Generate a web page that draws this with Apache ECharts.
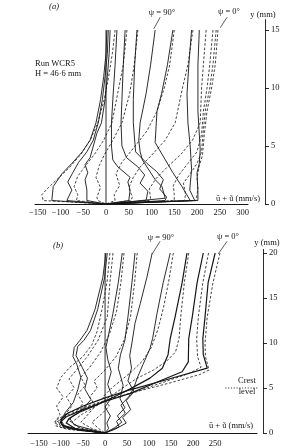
<!DOCTYPE html>
<html><head><meta charset="utf-8">
<script src="https://cdn.jsdelivr.net/npm/echarts@6/dist/echarts.min.js"></script>
<style>html,body{margin:0;padding:0;background:#fff}#c{width:285px;height:448px}</style>
</head><body><div id="c"></div>
<script>
// ---------- tick labels ----------
const xTicksA = [-150,-100,-50,0,50,100,150,200,250,300];
const yTicksA = [0,5,10,15];
const xTicksB = [-150,-100,-50,0,50,100,150,200,250];
const yTicksB = [0,5,10,15,20];

// ---------- panel (a): profiles [u (mm/s), y (mm)] ----------
const aS1 = [[2,15],[0,13],[-5,11],[-12,9],[-22,7],[-35,5.5],[-52,4.5],[-75,3.5],[-97,2.6],[-116,1.5],[-119,0.3],[0,0]];
const aS2 = [[5,15],[3,13],[-2,11],[-8,9],[-17,7],[-28,5.5],[-42,4.5],[-60,3.6],[-73,2.7],[-84,1.9],[-75,1.2],[-86,0.3],[0,0]];
const aS3 = [[9,15],[7,13],[3,11],[-2,9],[-10,7],[-20,6.1],[-35,4],[-46,3.4],[-40,2.7],[-46,2.1],[-42,1.2],[-42,0.3],[0,0]];
const aS4 = [[24,15],[20,12],[15,9],[12,7],[12,5],[15,3.8],[26,3.2],[53,2.3],[48,1.9],[53,1.2],[50,0.3],[0,0]];
const aS5 = [[42,15],[38,12],[35,9],[33,7],[35,5],[45,4],[70,3.2],[85,2.5],[75,1.8],[92,1.1],[88,0.3],[0,0]];
const aS6 = [[68,15],[63,12],[60,9],[60,7],[65,4.5],[90,3.5],[111,2.8],[126,2.1],[118,1.3],[133,0.6],[130,0.3],[0,0]];
const aS7 = [[108,15],[98,12],[88,9.5],[75,7],[72,5.5],[75,4.5],[80,3.8],[108,2.1],[123,1.5],[130,0.5],[0,0]];
const aS8 = [[147,15],[135,12],[122,9.5],[112,8],[108,5.3],[147,2.7],[167,1.5],[185,0.3],[0,0]];
const aS9 = [[188,15],[182,12],[178,9.5],[180,7],[185,5],[188,3],[184,1.2],[195,0.3],[0,0]];
const aS10 = [[205,15],[202,12],[202,9.5],[202,8],[207,4.7],[205,3.5],[200,2.7],[202,1],[202,0.3],[0,0]];
const aD1 = [[20,15],[14,13],[6,11],[-4,9],[-18,7],[-35,5.5],[-55,4.3],[-79,3.2],[-100,2.4],[-127,1.4],[-141,0.8],[-138,0.3],[0,0]];
const aD2 = [[46,15],[38,12],[28,10],[13,7],[-5,5.5],[-25,4.3],[-45,3.3],[-62,2.4],[-70,1.5],[-62,0.8],[-65,0.3],[0,0]];
const aD3 = [[70,15],[62,12],[52,9.5],[35,7],[15,5.5],[-3,4.3],[-15,3.3],[-22,2.3],[-12,1.4],[-20,0.6],[-18,0.3],[0,0]];
const aD4 = [[150,15],[140,12],[128,10],[112,8],[90,6.3],[60,4.8],[35,3.6],[22,2.6],[30,1.6],[18,0.8],[20,0.3],[0,0]];
const aD5 = [[191,15],[180,12],[168,10],[152,7],[130,5.5],[100,4.2],[75,3.2],[60,2.3],[50,1.4],[58,0.6],[55,0.3],[0,0]];
const aD6 = [[220,15],[214,12],[210,10],[207,7],[190,5.5],[165,4.3],[135,3.2],[110,2.2],[95,1.3],[98,0.5],[95,0.3],[0,0]];
const aD7 = [[235,15],[228,12],[222,10],[214,8],[210,6],[200,4.5],[180,3.5],[160,2.5],[148,1.6],[150,0.8],[150,0.3],[0,0]];
const aD8 = [[242,15],[235,12],[228,10],[218,8],[213,6],[210,4.5],[200,3.5],[185,2.6],[170,1.8],[175,0.8],[172,0.3],[0,0]];
const aD9 = [[246,15],[240,12],[232,10],[222,8],[216,6],[212,4.2],[205,3.3],[200,2.3],[202,1.3],[198,0.3],[0,0]];

// ---------- panel (b): profiles ----------
const bS1 = [[2,20],[-5,17.3],[-23,13.7],[-41,11.4],[-57,10.3],[-70,9.5],[-73,8.5],[-64,7.6],[-55,6.2],[-62,4.8],[-72,3.4],[-90,2.3],[-100,1.4],[-92,0.8],[-55,0.35],[0,0]];
const bS2 = [[5,20],[-1,17.3],[-17,13.7],[-33,11.4],[-48,10.3],[-62,9.6],[-66,8.6],[-52,7.3],[-40,6.1],[-46,4.9],[-32,3.7],[-52,2.6],[-80,1.6],[-70,0.9],[-25,0.3],[0,0]];
const bS3 = [[39,20],[30,16.7],[18,13.3],[7,10.7],[2,9.5],[6,8.2],[14,6.8],[6,5.4],[16,4],[0,2.9],[12,1.9],[4,1.1],[8,0.5],[0,0]];
const bS4 = [[68,20],[61,16.7],[52,12.9],[45,10.3],[35,8.7],[30,7.2],[41,5.3],[34,3.8],[45,2.8],[28,1.9],[38,1.2],[22,0.6],[0,0]];
const bS5 = [[107,20],[95,17.3],[80,14.4],[68,12.2],[61,10],[56,8.6],[60,7.2],[52,5.8],[66,4.6],[48,3.6],[58,2.6],[40,1.7],[48,1.1],[22,0.4],[0,0]];
const bS6 = [[148,20],[132,16.7],[118,13.3],[108,10.5],[102,9.4],[86,7.6],[73,6.1],[66,5.1],[55,4.1],[36,3.1],[46,2.2],[26,1.3],[32,0.7],[0,0]];
const bS7 = [[186,20],[175,16.7],[159,12.9],[148,10.5],[143,8.7],[130,7.2],[102,6.1],[57,4.9],[20,4],[-20,3.1],[-58,2.3],[-82,1.6],[-88,1.1],[-68,0.5],[0,0]];
const bS8 = [[223,20],[209,16.7],[198,12.9],[190,10.5],[189,7.9],[175,6.8],[120,5.7],[57,4.4],[0,3.5],[-50,2.6],[-88,1.8],[-102,1.2],[-94,0.7],[-60,0.35],[0,0]];
const bS9 = [[250,20],[234,16.7],[227,12.9],[222,10.5],[223,8.7],[232,7.2],[145,6],[57,4.8],[0,3.9],[-50,3],[-85,2.2],[-100,1.5],[-98,0.9],[-75,0.5],[-25,0.15],[0,0]];
const bD1 = [[11,20],[5,17],[-5,14.2],[-18,11.3],[-30,9.8],[-50,8.5],[-80,7.3],[-100,6.2],[-110,5],[-95,4],[-110,3],[-102,2],[-115,1.2],[-100,0.6],[-40,0.2],[0,0]];
const bD2 = [[18,20],[11,16.7],[5,12.9],[-16,10.3],[-40,8.5],[-65,7],[-82,6],[-70,5],[-88,4],[-75,3],[-92,2],[-108,1.2],[-82,0.5],[0,0]];
const bD3 = [[43,20],[36,16.7],[26,13.5],[10,11],[-10,9],[-35,7.3],[-55,6.2],[-45,5.3],[-62,4.3],[-50,3.3],[-66,2.3],[-82,1.4],[-60,0.6],[0,0]];
const bD4 = [[73,20],[67,16.7],[58,13],[45,10.5],[25,8.5],[0,7],[-25,5.8],[-18,5],[-35,4],[-22,3],[-40,2],[-55,1.2],[-30,0.5],[0,0]];
const bD5 = [[155,20],[145,17],[133,14],[120,11.5],[105,9.5],[85,8],[60,6.8],[35,5.8],[15,5],[-5,4],[10,3],[-10,2],[-30,1.2],[-15,0.5],[0,0]];
const bD6 = [[190,20],[180,16.7],[172,13],[168,10.5],[160,9],[140,8],[110,7],[70,6],[40,5],[10,4],[-20,3],[-55,2],[-75,1.2],[-55,0.5],[0,0]];
const bD7 = [[235,20],[222,16.7],[212,13],[208,10.5],[210,8.5],[218,7.3],[190,6.6],[130,5.6],[70,4.6],[10,3.7],[-45,2.8],[-85,2],[-108,1.3],[-100,0.7],[-60,0.3],[0,0]];
const bD8 = [[261,20],[245,16.7],[232,12.9],[227,10],[228,8.5],[236,7],[215,6.5],[150,5.6],[80,4.7],[20,3.9],[-40,3],[-85,2.2],[-112,1.4],[-112,0.8],[-85,0.4],[0,0]];

// ---------- reference lines / annotations ----------
const zeroLineA = [[0,0],[0,15]];
const zeroLineB = [[0,0],[0,20]];
const leader90A = [[105,15.1],[119,16.1]];
const leader0A = [[251,15.2],[266,16.1]];
const leader90B = [[107,19.9],[125,21.3]];
const leader0B = [[257,19.9],[277,21.3]];
const crestLevel = 5;
const crestSpan = [273,350];

const FONT = '"Liberation Serif","DejaVu Serif",serif';
const INK = '#151515';
const minus = v => String(v).replace('-', '\u2212');

function prof(data, dashed, gi, w) {
  return {type:'line', data, xAxisIndex:gi, yAxisIndex:gi, symbol:'none', showSymbol:false,
    silent:true, clip:false, z: dashed ? 2 : 3,
    lineStyle:{color:INK, width:w || (dashed ? 0.8 : 0.9), type: dashed ? [2.6,1.8] : 'solid', cap:'butt', join:'round'}};
}

const series = [];
[aS1,aS2,aS3,aS4,aS5,aS6,aS7,aS8,aS9,aS10].forEach(d => series.push(prof(d,false,0)));
[aD1,aD2,aD3,aD4,aD5,aD6,aD7,aD8,aD9].forEach(d => series.push(prof(d,true,0)));
series.push(prof(zeroLineA,false,0,0.9));
series.push(prof(leader90A,false,0,0.7));
series.push(prof(leader0A,false,0,0.7));
[bS1,bS2,bS3,bS4,bS5,bS6].forEach(d => series.push(prof(d,false,1)));
[bS7,bS8,bS9].forEach(d => series.push(prof(d,false,1,1.2)));
[bD1,bD2,bD3,bD4,bD5,bD6,bD7,bD8].forEach(d => series.push(prof(d,true,1)));
series.push(prof(zeroLineB,false,1,0.9));
series.push(prof(leader90B,false,1,0.7));
series.push(prof(leader0B,false,1,0.7));
series.push({type:'line', xAxisIndex:1, yAxisIndex:1, symbol:'none', silent:true, clip:false,
  data: crestSpan.map(u => [u, crestLevel]), lineStyle:{color:INK, width:0.8, type:[1.2,1.6]}});

function xAxisCfg(gi, min, max, ticks, margin) {
  return {type:'value', gridIndex:gi, min, max, position:'bottom',
    axisLine:{show:true, onZero:false, lineStyle:{color:INK, width:1.1}},
    axisTick:{show:false}, splitLine:{show:false},
    axisLabel:{customValues:ticks, formatter:minus, margin, color:INK, fontFamily:FONT, fontSize:8.5}};
}
function yAxisCfg(gi, max, ticks, offset) {
  return {type:'value', gridIndex:gi, min:0, max, position:'right', offset,
    axisLine:{show:true, onZero:false, lineStyle:{color:INK, width:0.9}},
    axisTick:{show:true, inside:false, length:4, customValues:ticks, lineStyle:{color:INK, width:0.9}},
    splitLine:{show:false},
    axisLabel:{customValues:ticks, margin:6, color:INK, fontFamily:FONT, fontSize:8.5}};
}

function txt(x, y, text, size, align, italic) {
  return {type:'text', x, y, silent:true, style:{text, x:0, y:0, fill:INK,
    font:(italic ? 'italic ' : '') + size + 'px ' + FONT,
    align: align || 'center', verticalAlign:'middle', textAlign: align || 'center', textVerticalAlign:'middle'}};
}

const option = {
  animation:false,
  backgroundColor:'#fff',
  grid:[
    {left:35, width:213, top:19.6, height:184.4},
    {left:28, width:229, top:249.4, height:183.6}
  ],
  xAxis:[ xAxisCfg(0,-156,312,xTicksA,4), xAxisCfg(1,-175,345,xTicksB,6) ],
  yAxis:[ yAxisCfg(0,15.9,yTicksA,17), yAxisCfg(1,20.4,yTicksB,6) ],
  series,
  graphic:[
    txt(54,7,'(a)',8.5,'center',true),
    txt(162,13,'\u03c8 = 90\u00b0',8.5),
    txt(229,12,'\u03c8 = 0\u00b0',8.5),
    txt(263,15,'y (mm)',8.5),
    txt(35,63.5,'Run WCR5',8.5,'left'),
    txt(35,73.5,'H = 46\u00b76 mm',8.5,'left'),
    txt(238,198.5,'\u016b + \u0169 (mm/s)',8.5),
    txt(58,246,'(b)',8.5,'center',true),
    txt(161,238,'\u03c8 = 90\u00b0',8.5),
    txt(228,237,'\u03c8 = 0\u00b0',8.5),
    txt(267,243,'y (mm)',8.5),
    txt(247,381,'Crest',8.5),
    txt(247,391.5,'level',8.5),
    txt(231,425.5,'\u016b + \u0169 (mm/s)',8.5)
  ]
};
const chart = echarts.init(document.getElementById('c'), null, {renderer:'canvas'});
chart.setOption(option);
</script></body></html>
